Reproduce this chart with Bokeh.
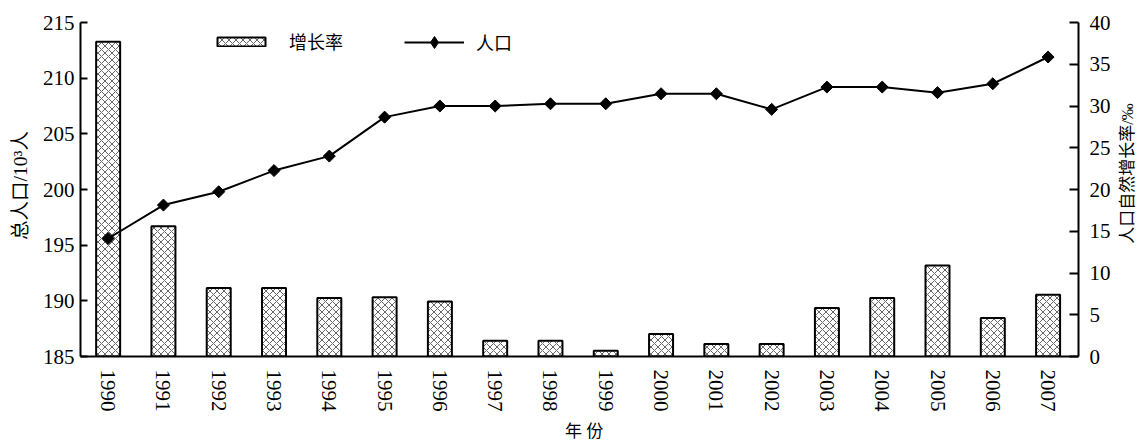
import math
from bokeh.plotting import figure
from bokeh.models import Range1d, LinearAxis, FixedTicker, Legend, LegendItem
from bokeh.layouts import row, column
from bokeh.core.properties import value
from bokeh.embed import file_html
from bokeh.resources import INLINE

years = list(range(1990, 2008))
population = [195.6, 198.6, 199.8, 201.7, 203.0, 206.5, 207.5, 207.5, 207.7, 207.7,
              208.6, 208.6, 207.2, 209.2, 209.2, 208.7, 209.5, 211.9]
growth_rate = [37.7, 15.6, 8.2, 8.2, 7.0, 7.1, 6.6, 1.9, 1.9, 0.7,
               2.7, 1.5, 1.5, 5.8, 7.0, 10.9, 4.6, 7.4]
left_ticks = [185, 190, 195, 200, 205, 210, 215]
right_ticks = [0, 5, 10, 15, 20, 25, 30, 35, 40]
left_title = "总人口/10³人"
right_title = "人口自然增长率/‰"
x_title = "年 份"
bar_name = "增长率"
line_name = "人口"

SERIF = "Liberation Serif"
MIXED = "Liberation Serif, Noto Sans CJK SC"
CJK = "Noto Sans CJK SC"

# ---- main chart -------------------------------------------------------
p = figure(width=1080, height=414, output_backend="svg", toolbar_location=None,
           x_range=Range1d(1989.50, 2007.55), y_range=Range1d(185, 215),
           min_border_left=42, min_border_right=40, min_border_top=22, min_border_bottom=53)
p.extra_y_ranges = {"rate": Range1d(0, 40)}
p.grid.visible = False
p.outline_line_color = None

bars = p.vbar(x=years, top=growth_rate, bottom=0, width=0.434, y_range_name="rate",
              fill_color="white", line_color="black", line_width=2,
              hatch_pattern="diagonal_cross", hatch_color="#555555", hatch_scale=7, hatch_weight=0.9)
line = p.line(years, population, line_color="black", line_width=2)
# diamond drawn underneath the rotated squares: it gives the legend its diamond symbol
legend_marker = p.scatter(years, population, marker="diamond", size=7,
                          fill_color="black", line_color="black")
pts = p.scatter(years, population, marker="square", angle=math.pi / 4, size=8.5,
                fill_color="black", line_color="black")

xa = p.xaxis[0]
xa.ticker = FixedTicker(ticks=years)
xa.major_label_orientation = "vertical"
xa.major_tick_line_color = None
xa.minor_tick_line_color = None
xa.major_label_text_font = SERIF
xa.major_label_text_font_size = "21px"
xa.major_label_text_color = "black"
xa.major_label_standoff = 7
xa.axis_line_width = 2

ya = p.yaxis[0]
ya.ticker = FixedTicker(ticks=left_ticks)
ya.major_tick_in = 7
ya.major_tick_out = 0
ya.major_tick_line_width = 2
ya.minor_tick_line_color = None
ya.major_label_text_font = SERIF
ya.major_label_text_font_size = "21px"
ya.major_label_text_color = "black"
ya.major_label_standoff = 6
ya.axis_line_width = 2

ra = LinearAxis(y_range_name="rate", ticker=FixedTicker(ticks=right_ticks))
ra.major_tick_in = 9
ra.major_tick_out = 0
ra.major_tick_line_width = 2
ra.minor_tick_line_color = None
ra.major_label_text_font = SERIF
ra.major_label_text_font_size = "21px"
ra.major_label_text_color = "black"
ra.major_label_standoff = 11
ra.axis_line_width = 2
p.add_layout(ra, "right")

common = dict(orientation="horizontal", padding=0, margin=0, border_line_color=None,
              background_fill_alpha=0, label_text_font=CJK, label_text_font_size="18px",
              label_text_color="black", glyph_width=60, label_height=20)
leg_bar = Legend(items=[LegendItem(label=bar_name, renderers=[bars])],
                 location=(131, 302), glyph_height=11, label_standoff=18, **common)
leg_line = Legend(items=[LegendItem(label=line_name, renderers=[line, legend_marker])],
                  location=(324, 299), glyph_height=30, label_standoff=12, **common)
p.add_layout(leg_bar, "center")
p.add_layout(leg_line, "center")


# ---- axis titles in thin side panels ---------------------------------
def text_panel(w, h, tx, ty, txt, angle, size):
    f = figure(width=w, height=h, output_backend="svg", toolbar_location=None,
               x_range=Range1d(0, w), y_range=Range1d(0, h),
               x_axis_type=None, y_axis_type=None, min_border=0)
    f.grid.visible = False
    f.outline_line_color = None
    f.text(x=[tx], y=[ty], text=[txt], angle=angle, text_align="center",
           text_baseline="middle", text_font=value(MIXED), text_font_size=size,
           text_color="black")
    return f


left_fig = text_panel(38, 440, 20, 255, left_title, math.pi / 2, "19.5px")
right_fig = text_panel(22, 440, 9, 267, right_title, math.pi / 2, "17px")
bottom_fig = text_panel(1080, 26, 545, 9, x_title, 0, "17px")

layout = row(left_fig, column(p, bottom_fig), right_fig)

open("out.html", "w").write(file_html(layout, INLINE))
